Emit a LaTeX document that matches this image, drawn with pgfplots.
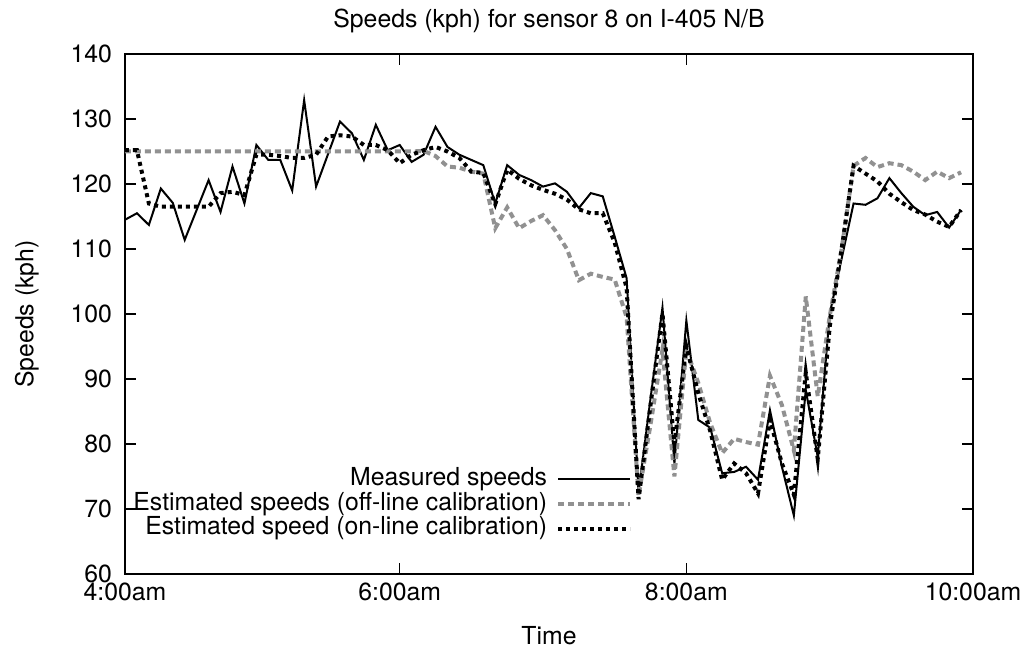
\documentclass[border=0pt]{standalone}
\usepackage{pgfplots}
\pgfplotsset{compat=1.18}
\usepackage{pgfplotstable}
\usepackage{fontspec}
\setmainfont{TeX Gyre Heros}
\definecolor{offgray}{RGB}{145,145,145}
\pgfplotstableread{
t meas off on
5 114.5 125 125.2
10 115.5 125 125.2
15 113.7 125 117
20 119.3 125 116.5
25 117.1 125 116.5
30 111.4 125 116.5
35 116 125 116.5
40 120.6 125 116.5
45 115.7 125 118.6
50 122.7 125 118.8
55 117 125 118.3
60 126 125 124.5
65 123.7 125 124.5
70 123.7 125 124.3
75 119 125 124
80 132.9 125 124
85 119.6 125 124.5
90 124.6 125 127.3
95 129.6 125 127.5
100 127.8 125 127.3
105 123.7 125 126
110 129.1 125 126
115 125.2 125 125.2
120 126 125 123.2
125 123.4 125 124.5
130 124.5 125.1 125.2
135 128.8 124.3 125.7
140 125.7 122.7 125
145 124.5 122.5 124
150 123.7 121.9 121.9
155 122.9 121.6 121.7
160 117 113.2 116.9
165 122.9 116.4 122.2
170 121.4 113.2 120.8
175 120.6 114.3 119.8
180 119.6 115.2 119.1
185 120.1 112.9 118.5
190 118.8 110 117.6
195 116.3 105.2 116.1
200 118.6 106.2 115.5
205 118.1 105.7 115.5
210 111.9 105.3 111
215 105.5 99.5 104
220 72.5 72 71.5
225 87 83 86
230 101 94.5 100.1
235 77 75 80
240 99 94.5 95
245 83.7 89.4 87.8
250 82.5 83.2 82
255 75.5 78.6 74.5
260 75.7 80.8 77
265 76.5 80.3 75.5
270 74.5 79.9 72.4
275 85.2 90.5 83.7
280 76.5 86 77
285 69 79 72.2
290 88.3 102.7 91
295 78 87.3 77.7
300 100 99.6 98
305 108.5 110 110
310 117 122.8 122.8
315 116.8 124 121.6
320 117.8 122.6 120.4
325 120.9 123.2 118.5
330 118.6 122.9 117.2
335 116.5 121.9 116
340 115.2 120.6 115.3
345 115.7 121.9 114.2
350 113.3 120.9 113.4
355 116 121.8 116
}\speeds
\begin{document}
\begin{tikzpicture}[font=\fontsize{12.4}{14.5}\selectfont]
\begin{axis}[
  scale only axis,
  width=424pt, height=260pt,
  xmin=5, xmax=360, ymin=60, ymax=140,
  xtick={5,120,240,360},
  xticklabels={4:00am,6:00am,8:00am,10:00am},
  ytick={60,70,...,140},
  tick align=inside,
  major tick length=5.5pt,
  tick style={black, line width=0.7pt},
  axis line style={line width=0.8pt},
  /pgf/number format/assume math mode=true,
  ticklabel style={font=\fontsize{12.4}{14.5}\selectfont},
  yticklabel style={xshift=-3pt},
  xticklabel style={yshift=-1pt},
  title={Speeds (kph) for sensor 8 on I-405 N/B},
  title style={yshift=1pt},
  xlabel={Time},
  xlabel style={yshift=-6pt},
  ylabel={Speeds (kph)},
  ylabel style={yshift=9pt},
  legend plot pos=right,
  legend cell align=right,
  legend style={draw=none, fill=none, inner sep=0pt, outer sep=0pt,
    anchor=east, at={(rel axis cs:0.598,0.135)},
    nodes={inner sep=0.5pt, text height=8.8pt, text depth=2.6pt},
    /tikz/every odd column/.append style={column sep=4pt}},
  legend image code/.code={\draw[#1] (0pt,0pt) -- (36pt,0pt);},
]
\addplot[black, line width=1pt, line join=miter] table[x=t, y=meas] {\speeds};
\addlegendentry{Measured speeds}
\addplot[offgray, line width=2pt, dash pattern=on 3pt off 2pt] table[x=t, y=off] {\speeds};
\addlegendentry{Estimated speeds (off-line calibration)}
\addplot[black, line width=2pt, dash pattern=on 2pt off 2pt] table[x=t, y=on] {\speeds};
\addlegendentry{Estimated speed (on-line calibration)}
\end{axis}
\pgfresetboundingbox
\path (-62.5pt,-37pt) rectangle (449.5pt,287pt);
\end{tikzpicture}
\end{document}
